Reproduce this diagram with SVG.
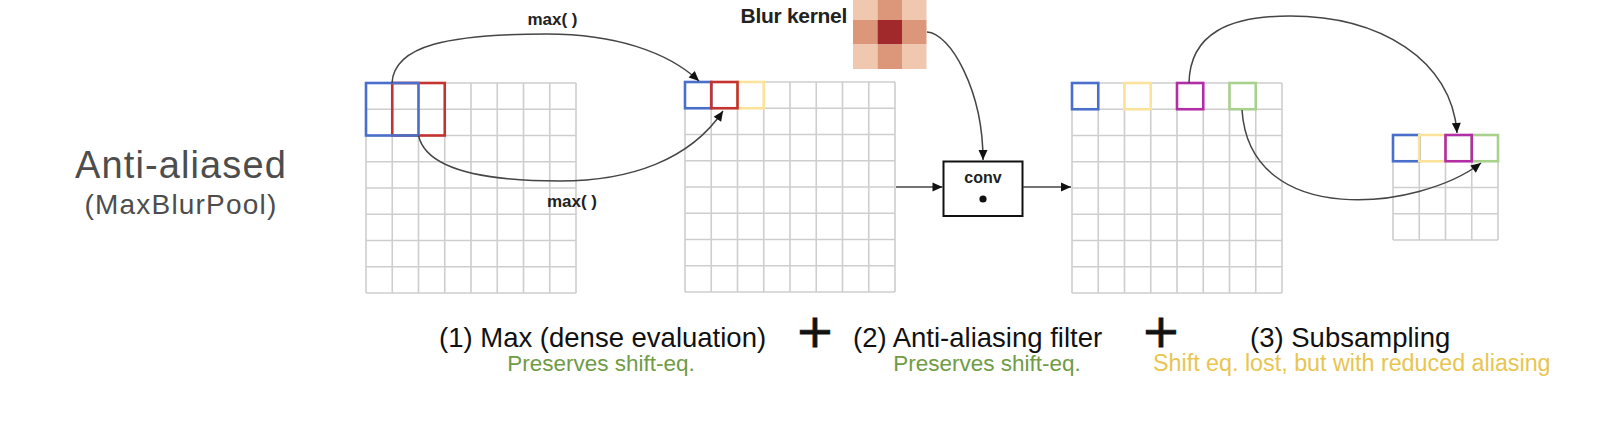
<svg xmlns="http://www.w3.org/2000/svg" width="1618" height="428" viewBox="0 0 1618 428">
<style>
.grid{fill:none;stroke:#cecece;stroke-width:1.6}
.hl{fill:none;stroke-width:2.6}
.b{stroke:#4a6fcb}.r{stroke:#c4332f}.y{stroke:#fbe39c}.m{stroke:#b12ea6}.g{stroke:#a8d18c}
.conn{fill:none;stroke:#454545;stroke-width:1.5}
.t{font-family:"Liberation Sans",Arial,Helvetica,sans-serif}
.lbl{font-size:17px;font-weight:bold;fill:#222;text-anchor:middle}
.big{font-size:27.5px;fill:#111}
.plus{font-family:"DejaVu Sans",sans-serif;font-size:47px;fill:#111;stroke:#111;stroke-width:0.9;text-anchor:middle}
.sub{font-size:22.5px}
.ysub{font-size:23.3px}
.green{fill:#6f9c45}.yellow{fill:#e8c551}
.kc{fill:#f0c8b0}.ke{fill:#dc977b}.kd{fill:#a1282b}
</style>
<defs>
<g id="g8"><path class="grid" d="M0,0V210M26.25,0V210M52.5,0V210M78.75,0V210M105,0V210M131.25,0V210M157.5,0V210M183.75,0V210M210,0V210M0,0H210M0,26.25H210M0,52.5H210M0,78.75H210M0,105H210M0,131.25H210M0,157.5H210M0,183.75H210M0,210H210"/></g>
<g id="g4"><path class="grid" d="M0,0V105M26.25,0V105M52.5,0V105M78.75,0V105M105,0V105M0,0H105M0,26.25H105M0,52.5H105M0,78.75H105M0,105H105"/></g>
<marker id="ah" viewBox="0 0 10 10" refX="10" refY="5" markerWidth="11" markerHeight="10" markerUnits="userSpaceOnUse" orient="auto"><path d="M0,0.5L10,5L0,9.5z" fill="#111"/></marker>
</defs>
<rect width="1618" height="428" fill="#fff"/>

<g id="title">
<text class="t" x="181" y="178" font-size="38" letter-spacing="1.1" fill="#4d4d4d" text-anchor="middle">Anti-aliased</text>
<text class="t" x="181" y="214" font-size="28" letter-spacing="1.2" fill="#4d4d4d" text-anchor="middle">(MaxBlurPool)</text>
</g>

<g id="grid1">
<use href="#g8" x="366" y="83"/>
<rect class="hl r" x="392.25" y="83" width="52.5" height="52.5"/>
<rect class="hl b" x="366" y="83" width="52.5" height="52.5"/>
</g>

<g id="grid2">
<use href="#g8" x="685" y="82"/>
<rect class="hl b" x="685" y="82" width="26.25" height="26.25"/>
<rect class="hl y" x="737.5" y="82" width="26.25" height="26.25"/>
<rect class="hl r" x="711.25" y="82" width="26.25" height="26.25"/>
</g>

<g id="kernel">
<rect class="kc" x="853" y="-4.5" width="24.5" height="24.5"/>
<rect class="ke" x="877.5" y="-4.5" width="24.5" height="24.5"/>
<rect class="kc" x="902" y="-4.5" width="24.5" height="24.5"/>
<rect class="ke" x="853" y="20" width="24.5" height="24.5"/>
<rect class="kd" x="877.5" y="20" width="24.5" height="24.5"/>
<rect class="ke" x="902" y="20" width="24.5" height="24.5"/>
<rect class="kc" x="853" y="44.5" width="24.5" height="24.5"/>
<rect class="ke" x="877.5" y="44.5" width="24.5" height="24.5"/>
<rect class="kc" x="902" y="44.5" width="24.5" height="24.5"/>
<text class="t" x="847" y="23" font-size="21" font-weight="bold" letter-spacing="-0.3" fill="#222" text-anchor="end">Blur kernel</text>
</g>

<g id="conv">
<rect x="943.5" y="161.5" width="79" height="54.5" fill="#fff" stroke="#111" stroke-width="2"/>
<text class="t" x="983" y="183" font-size="16" font-weight="bold" fill="#222" text-anchor="middle">conv</text>
<circle cx="983" cy="199" r="3.6" fill="#111"/>
</g>

<g id="grid3">
<use href="#g8" x="1072" y="83"/>
<rect class="hl b" x="1072" y="83" width="26.25" height="26.25"/>
<rect class="hl y" x="1124.5" y="83" width="26.25" height="26.25"/>
<rect class="hl m" x="1177" y="83" width="26.25" height="26.25"/>
<rect class="hl g" x="1229.5" y="83" width="26.25" height="26.25"/>
</g>

<g id="grid4">
<use href="#g4" x="1393" y="135"/>
<rect class="hl b" x="1393" y="135" width="26.25" height="26.25"/>
<rect class="hl y" x="1419.25" y="135" width="26.25" height="26.25"/>
<rect class="hl g" x="1471.75" y="135" width="26.25" height="26.25"/>
<rect class="hl m" x="1445.5" y="135" width="26.25" height="26.25"/>
</g>

<g id="connectors">
<path class="conn" marker-end="url(#ah)" d="M392,83 C394,45 450,34 547,34 C615,34 668,52 699,81"/>
<path class="conn" marker-end="url(#ah)" d="M418.5,135.5 C425,165 470,181 560,181 C630,181 690,160 723,111"/>
<path class="conn" marker-end="url(#ah)" d="M927,32 C950,33 983,90 983,160"/>
<path class="conn" marker-end="url(#ah)" d="M896,187 H942.5"/>
<path class="conn" marker-end="url(#ah)" d="M1023,187 H1071"/>
<path class="conn" marker-end="url(#ah)" d="M1189,83 C1190,33 1230,16 1290,16 C1380,16 1452,60 1457,133"/>
<path class="conn" marker-end="url(#ah)" d="M1242,110 C1250,230 1420,210 1481,163"/>
<text class="t lbl" x="552.5" y="25">max( )</text>
<text class="t lbl" x="572" y="207">max( )</text>
</g>

<g id="captions">
<text class="t big" x="439" y="347">(1) Max (dense evaluation)</text>
<text class="plus" x="815" y="347">+</text>
<text class="t big" x="853" y="347">(2) Anti-aliasing filter</text>
<text class="plus" x="1161" y="347">+</text>
<text class="t big" x="1250" y="347">(3) Subsampling</text>
<text class="t sub green" x="601" y="371" text-anchor="middle">Preserves shift-eq.</text>
<text class="t sub green" x="987" y="371" text-anchor="middle">Preserves shift-eq.</text>
<text class="t ysub yellow" x="1153" y="371">Shift eq. lost, but with reduced aliasing</text>
</g>
</svg>
